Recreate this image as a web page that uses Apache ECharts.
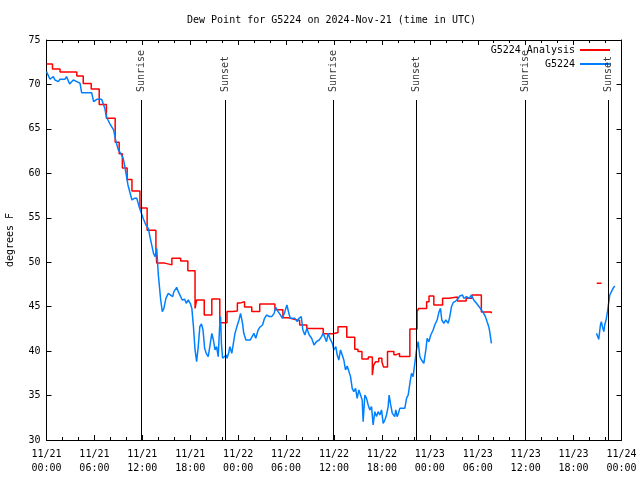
<!DOCTYPE html>
<html>
<head>
<meta charset="utf-8">
<script src="https://cdn.jsdelivr.net/npm/echarts@6/dist/echarts.min.js"></script>
<style>html,body{margin:0;padding:0;background:#fff}#c{width:640px;height:480px}</style>
</head>
<body>
<div id="c"></div>
<script>
// Hours since 2024-11-21 00:00 UTC
const titleText = 'Dew Point for G5224 on 2024-Nov-21 (time in UTC)';
const xTickLabels = ['11/21\n00:00','11/21\n06:00','11/21\n12:00','11/21\n18:00','11/22\n00:00','11/22\n06:00','11/22\n12:00','11/22\n18:00','11/23\n00:00','11/23\n06:00','11/23\n12:00','11/23\n18:00','11/24\n00:00'];
const seriesNames = ['G5224 Analysis', 'G5224'];

// Analysis (red), step levels: start hour and value
const redT = [0.0,0.75,1.7,3.8,4.6,5.6,6.6,7.5,8.6,9.1,9.5,10.1,10.7,11.7,12.6,13.7,13.8,14.8,15.7,16.8,17.7,18.6,18.8,19.75,20.7,21.7,22.6,23.3,23.9,24.2,24.8,25.7,26.7,28.6,29.6,30.3,30.9,31.7,32.6,34.65,35.9,36.5,37.6,38.6,39.0,39.5,40.3,40.8,40.95,41.2,41.6,42.0,42.2,42.7,43.5,43.8,44.2,45.5,46.4,46.6,47.6,47.9,48.5,49.6,50.4,51.45,52.55,53.3,54.45,55.7,55.72,68.9,69.5];
const redV = [72.3,71.75,71.4,70.95,70.1,69.5,67.75,66.2,63.5,62.2,60.6,59.3,58.0,56.1,53.6,51.6,49.9,49.7,50.45,50.15,49.05,44.8,45.75,44.05,45.85,43.2,44.45,44.5,45.4,45.55,44.95,44.45,45.3,44.65,43.75,43.6,43.45,42.95,42.55,41.95,42.1,42.75,41.55,40.2,39.95,39.1,39.35,37.3,38.4,38.8,39.2,38.8,38.2,39.95,39.6,39.75,39.4,42.5,44.45,44.8,45.55,46.2,45.2,45.95,46.1,45.65,45.95,46.3,44.4,44.25,null,47.63,47.63];

// Observations (blue)
const blueT = [0.0,0.2,0.44,0.85,1.06,1.27,1.48,1.69,2.3,2.5,2.9,3.35,3.8,4.2,4.4,5.65,5.9,6.3,6.9,7.3,7.5,7.9,8.4,8.7,9.0,9.3,9.6,9.8,10.2,10.7,11.0,11.3,11.6,11.8,12.1,12.45,12.75,12.95,13.4,13.6,13.8,14.0,14.3,14.5,14.7,14.95,15.25,15.5,15.8,15.95,16.3,16.5,16.8,17.0,17.3,17.5,17.75,18.0,18.2,18.4,18.6,18.8,19.0,19.2,19.4,19.6,19.8,20.0,20.25,20.45,20.7,20.9,21.1,21.3,21.5,21.7,21.8,21.9,22.05,22.2,22.5,22.6,22.8,22.96,23.2,23.4,23.6,23.9,24.1,24.3,24.55,24.7,24.97,25.5,25.7,25.97,26.2,26.5,26.7,27.05,27.3,27.55,27.9,28.2,28.5,28.7,29.0,29.3,29.55,29.85,30.1,30.4,30.55,30.8,31.1,31.4,31.6,31.9,32.1,32.35,32.6,32.9,33.2,33.5,33.8,34.15,34.44,34.65,35.06,35.27,35.48,35.8,35.98,36.23,36.4,36.6,36.82,37.03,37.23,37.44,37.65,37.9,38.07,38.28,38.48,38.7,38.9,39.11,39.32,39.53,39.65,39.86,40.07,40.28,40.49,40.7,40.9,41.11,41.32,41.53,41.74,41.95,42.16,42.37,42.57,42.78,42.9,43.1,43.3,43.6,43.74,43.9,44.07,44.24,44.87,45.08,45.29,45.5,45.7,45.9,46.12,46.33,46.54,46.75,46.95,47.25,47.5,47.66,47.87,48.12,48.41,48.62,48.91,49.16,49.33,49.5,49.75,50.0,50.3,50.5,50.71,50.92,51.13,51.42,51.75,52.09,52.25,52.59,52.92,53.21,53.5,53.84,54.17,54.46,54.75,54.96,55.17,55.38,55.5,55.71,62.0,68.86,69.15,69.36,69.48,69.61,69.78,69.9,70.11,70.24,70.36,70.53,70.74,70.94,71.15];
const blueV = [71.44,71.63,70.58,70.88,70.5,70.69,70.31,70.58,70.58,70.88,70.05,70.5,70.31,70.13,69.07,69.07,68.06,68.33,68.33,67.31,66.37,65.63,64.88,63.56,62.63,62.25,61.69,60.8,58.69,57.0,57.19,57.19,56.25,56.06,54.94,54.19,53.81,52.88,51.0,50.63,51.56,48.6,45.75,44.44,44.81,45.94,46.5,46.69,46.13,46.69,47.17,46.69,46.13,45.75,45.83,45.38,45.75,45.38,44.81,42.75,40.13,38.81,40.5,42.75,43.05,42.38,40.31,39.75,39.38,40.5,42.0,41.25,40.13,40.5,39.38,43.13,43.88,40.88,39.19,39.38,39.56,39.19,39.75,40.5,39.75,40.88,42.0,42.94,43.5,44.25,43.13,42.0,41.25,41.25,41.55,42.0,41.44,42.38,42.68,42.94,43.69,44.06,43.88,43.88,44.25,44.93,44.44,44.06,43.69,44.44,45.19,44.06,43.69,43.5,43.69,43.31,43.69,43.88,42.38,41.81,42.56,41.81,41.44,40.69,41.06,41.25,41.63,42.0,41.06,42.0,41.44,40.88,40.13,40.5,39.56,39.0,40.13,39.56,39.0,37.88,38.33,38.25,37.13,35.81,35.44,35.81,34.69,35.63,35.81,34.5,32.06,35.06,34.69,33.94,33.38,33.75,31.69,33.19,32.63,33.19,32.81,33.38,31.88,32.25,32.81,33.75,35.06,33.94,33.0,32.63,33.38,32.63,33.0,33.56,33.56,34.69,35.06,36.38,37.5,37.13,38.63,40.13,41.06,39.38,39.0,38.63,40.13,41.44,41.06,41.81,42.38,42.94,43.5,44.44,44.81,43.5,43.13,43.5,43.13,43.88,45.0,45.45,45.38,45.75,46.2,46.31,45.94,46.13,45.94,46.31,45.75,45.38,45.0,44.63,44.25,43.88,43.31,42.75,42.19,40.88,null,42.0,41.33,42.94,43.31,42.75,42.19,42.94,43.69,44.44,45.19,46.31,46.69,47.06,47.33];

// Sunrise / sunset times
const sunT = [11.83, 22.43, 35.9, 46.28, 59.92, 70.31];
const sunLabels = ['Sunrise','Sunset','Sunrise','Sunset','Sunrise','Sunset'];
const sunLineTop = 68.25;
const sunLabelBase = 69.15;

const FONT = 'DejaVu Sans Mono';
const pairs = (t, v) => t.map((x, i) => [x, v[i]]);

const xBase = {
  type: 'value', min: 0, max: 72, interval: 6,
  axisLine: { show: true, onZero: false, lineStyle: { color: '#000', width: 1 } },
  axisTick: { show: true, inside: true, length: 5, lineStyle: { color: '#000' } },
  minorTick: { show: true, splitNumber: 3, length: 3, lineStyle: { color: '#000' } },
  splitLine: { show: false }
};
const yBase = {
  type: 'value', min: 30, max: 75, interval: 5,
  axisLine: { show: true, onZero: false, lineStyle: { color: '#000', width: 1 } },
  axisTick: { show: true, inside: true, length: 5, lineStyle: { color: '#000' } },
  splitLine: { show: false }
};

const chart = echarts.init(document.getElementById('c'), null, { renderer: 'canvas' });
chart.setOption({
  animation: false,
  backgroundColor: '#fff',
  title: {
    text: titleText, left: 182, top: 10,
    textStyle: { fontFamily: FONT, fontSize: 10, fontWeight: 'normal', color: '#000' }
  },
  grid: { left: 46.5, right: 18.5, top: 40, bottom: 40, containLabel: false, outerBoundsMode: 'none' },
  legend: {
    orient: 'vertical', align: 'right', right: 25, top: 40,
    itemWidth: 30, itemHeight: 2, itemGap: 4, icon: 'rect',
    data: seriesNames,
    textStyle: { fontFamily: FONT, fontSize: 10, color: '#000' }
  },
  xAxis: [
    Object.assign({}, xBase, {
      position: 'bottom',
      axisLabel: {
        fontFamily: FONT, fontSize: 10, color: '#000', margin: 7, lineHeight: 14,
        formatter: v => xTickLabels[Math.round(v / 6)]
      }
    }),
    Object.assign({}, xBase, { position: 'top', axisLabel: { show: false } })
  ],
  yAxis: [
    Object.assign({}, yBase, {
      position: 'left',
      name: 'degrees F', nameLocation: 'middle', nameGap: 31,
      nameTextStyle: { fontFamily: FONT, fontSize: 10, color: '#000' },
      axisLabel: { fontFamily: FONT, fontSize: 10, color: '#000', margin: 6 }
    }),
    Object.assign({}, yBase, { position: 'right', axisLabel: { show: false } })
  ],
  series: [
    {
      name: seriesNames[0], type: 'line', step: 'end', symbol: 'none',
      data: pairs(redT, redV), connectNulls: false,
      lineStyle: { color: '#ff0000', width: 1.5 }, itemStyle: { color: '#ff0000' },
      z: 3
    },
    {
      name: seriesNames[1], type: 'line', symbol: 'none',
      data: pairs(blueT, blueV), connectNulls: false,
      lineStyle: { color: '#0080ff', width: 1.5 }, itemStyle: { color: '#0080ff' },
      z: 4,
      markLine: {
        silent: true, symbol: ['none', 'none'], animation: false,
        label: { show: false },
        lineStyle: { color: '#000', width: 1, type: 'solid' },
        data: sunT.map(t => [{ coord: [t, 30] }, { coord: [t, sunLineTop] }])
      }
    },
    {
      name: 'sunlabels', type: 'scatter', symbolSize: 0, silent: true,
      data: sunT.map(t => [t, sunLabelBase]),
      label: {
        show: true, position: [0, 0], rotate: 90, align: 'left', verticalAlign: 'middle',
        fontFamily: FONT, fontSize: 10, color: '#000',
        formatter: p => sunLabels[p.dataIndex]
      },
      z: 5
    }
  ]
});
</script>
</body>
</html>
